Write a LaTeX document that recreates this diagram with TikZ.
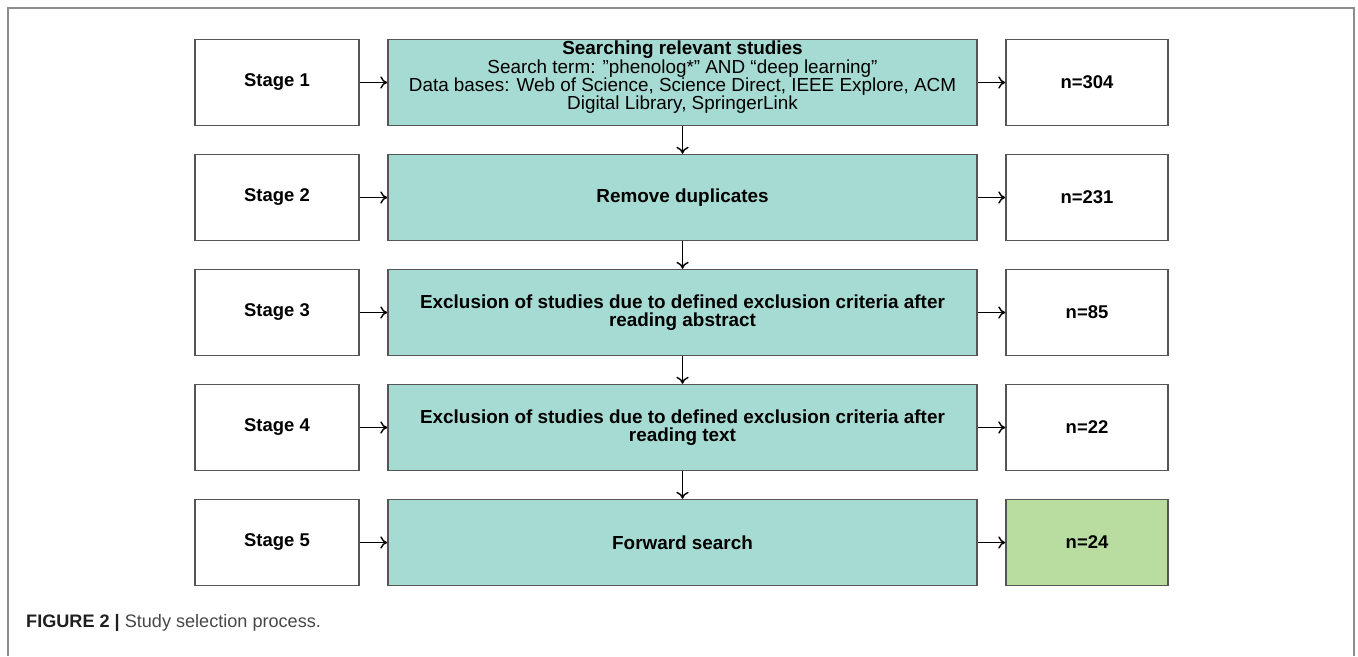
\documentclass[tikz,border=0pt]{standalone}
\usepackage{fontspec}
\setmainfont{Liberation Sans}
\usetikzlibrary{arrows.meta}
\definecolor{tealfill}{RGB}{166,219,211}
\definecolor{greenfill}{RGB}{185,221,160}
\definecolor{edgegray}{RGB}{85,85,85}
\tikzset{
	stagebox/.style={draw=edgegray, line width=0.8pt, fill=white, minimum width=3.28cm, minimum height=1.72cm, font=\fontsize{10.5}{12}\selectfont\bfseries},
	workbox/.style={stagebox, fill=tealfill, minimum width=11.78cm, align=center, font=\fontsize{10.75}{10.5}\selectfont},
	countbox/.style={stagebox, minimum width=3.24cm},
	flow/.style={line width=0.8pt, -{To[length=4pt,width=7pt]}}
}

\begin{document}
\begin{tikzpicture}[x=0.02cm, y=-0.02cm]
			%%%%% START %%%%%
			\useasboundingbox (0, 0) rectangle (1358, 656);
			
			\draw[line width=1pt, color=black!45] (8, 656) -- (8, 8) -- (1354, 8) -- (1354, 656);
			
			% stage 1
			\node[stagebox] (s1) at (277, 82.5) {Stage 1};
			\node[workbox, inner ysep=0pt, text depth=8pt] (w1) at (682.5, 82.5) {\textbf{Searching relevant studies}\\Search term: ''phenolog*'' AND ``deep learning''\\Data bases: Web of Science, Science Direct, IEEE Explore, ACM\\Digital Library, SpringerLink};
			\node[countbox] (c1) at (1087, 82.5) {n=304};
			
			% stage 2
			\node[stagebox] (s2) at (277, 197.5) {Stage 2};
			\node[workbox] (w2) at (682.5, 197.5) {\textbf{Remove duplicates}};
			\node[countbox] (c2) at (1087, 197.5) {n=231};
			
			% stage 3
			\node[stagebox] (s3) at (277, 312.5) {Stage 3};
			\node[workbox] (w3) at (682.5, 312.5) {\textbf{Exclusion of studies due to defined exclusion criteria after}\\\textbf{reading abstract}};
			\node[countbox] (c3) at (1087, 312.5) {n=85};
			
			% stage 4
			\node[stagebox] (s4) at (277, 427.5) {Stage 4};
			\node[workbox] (w4) at (682.5, 427.5) {\textbf{Exclusion of studies due to defined exclusion criteria after}\\\textbf{reading text}};
			\node[countbox] (c4) at (1087, 427.5) {n=22};
			
			% stage 5
			\node[stagebox] (s5) at (277, 542.5) {Stage 5};
			\node[workbox] (w5) at (682.5, 542.5) {\textbf{Forward search}};
			\node[countbox, fill=greenfill] (c5) at (1087, 542.5) {n=24};
			
			\foreach \i in {1,...,5} {
				\draw[flow] (s\i) -- (w\i);
				\draw[flow] (w\i) -- (c\i);
			}
			\foreach \i/\j in {1/2,2/3,3/4,4/5}
				\draw[flow] (w\i) -- (w\j);
			
			\node[anchor=base west, font=\fontsize{10.3}{12}\selectfont, text=black!72] (cap) at (20, 627) {\textbf{\color{black!88}FIGURE 2 |} Study selection process.};
			
			%%%%% END %%%%%
		\end{tikzpicture}
\end{document}
